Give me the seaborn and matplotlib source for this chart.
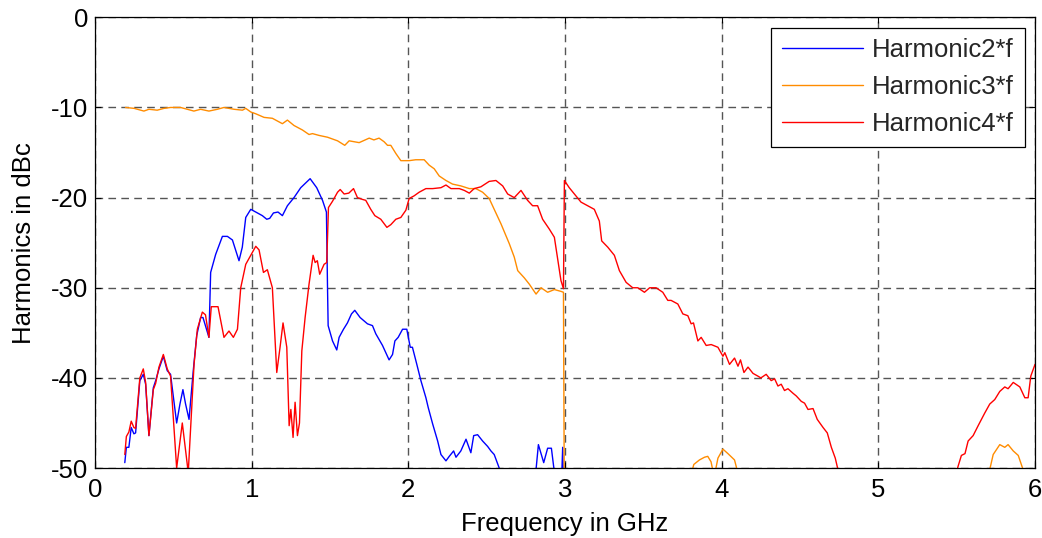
import numpy as np
import pandas as pd
import seaborn as sns
import matplotlib
matplotlib.use("Agg")
import matplotlib.pyplot as plt

# ---- measured harmonic levels (dBc) versus fundamental frequency (GHz) ----
h2_freq = [0.19, 0.20, 0.216, 0.231, 0.248, 0.259, 0.286, 0.308, 0.323, 0.344, 0.372, 0.387,
           0.408, 0.436, 0.461, 0.482, 0.521, 0.542, 0.561, 0.578, 0.600, 0.627, 0.649, 0.674,
           0.689, 0.727, 0.738, 0.770, 0.813, 0.845, 0.877, 0.919, 0.940, 0.962, 0.994, 1.026,
           1.068, 1.096, 1.115, 1.139, 1.168, 1.196, 1.228, 1.270, 1.313, 1.373, 1.415, 1.452,
           1.477, 1.484, 1.488, 1.516, 1.543, 1.558, 1.586, 1.611, 1.637, 1.658, 1.692, 1.739,
           1.771, 1.792, 1.835, 1.877, 1.899, 1.914, 1.935, 1.963, 1.990, 2.012, 2.026, 2.054,
           2.080, 2.112, 2.127, 2.155, 2.187, 2.208, 2.240, 2.261, 2.289, 2.304, 2.335, 2.368,
           2.399, 2.417, 2.442, 2.474, 2.506, 2.527, 2.548, 2.580, 2.590, 2.805, 2.830, 2.864,
           2.889, 2.913, 2.950, 2.975, 2.985, 2.995]
h2_level = [-49.4, -47.7, -47.7, -45.5, -46.2, -46.1, -40.3, -39.6, -40.7, -46.4, -41.1, -40.3,
            -39.0, -37.6, -39.2, -39.6, -45.0, -42.9, -41.3, -42.9, -44.6, -39.2, -35.3, -33.3,
            -33.3, -35.5, -28.3, -26.3, -24.3, -24.3, -24.7, -27.0, -25.5, -22.2, -21.3, -21.6,
            -22.0, -22.4, -22.3, -21.7, -21.6, -22.0, -20.9, -20.0, -18.9, -17.9, -18.9, -20.3,
            -21.6, -30.0, -34.2, -35.9, -36.9, -35.5, -34.6, -33.9, -32.9, -32.5, -33.3, -34.0,
            -34.2, -35.1, -36.4, -38.0, -37.4, -35.9, -35.5, -34.6, -34.6, -36.6, -36.6, -38.5,
            -40.3, -42.2, -43.3, -45.1, -47.0, -48.5, -49.2, -48.7, -48.1, -48.8, -48.1, -46.8,
            -48.3, -46.4, -46.3, -47.0, -47.6, -48.1, -48.5, -50.0, -52.0, -52.0, -47.4, -49.4,
            -47.8, -47.8, -53.0, -53.0, -47.7, -58.0]

h3_freq = [0.195, 0.25, 0.312, 0.344, 0.397, 0.44, 0.482, 0.546, 0.589, 0.631, 0.674, 0.727,
           0.781, 0.823, 0.887, 0.941, 0.962, 0.994, 1.026, 1.079, 1.132, 1.196, 1.228, 1.270,
           1.324, 1.366, 1.388, 1.430, 1.484, 1.548, 1.594, 1.622, 1.686, 1.75, 1.78, 1.813,
           1.845, 1.867, 1.888, 1.92, 1.952, 2.005, 2.047, 2.101, 2.133, 2.165, 2.197, 2.24,
           2.282, 2.335, 2.389, 2.431, 2.474, 2.516, 2.548, 2.591, 2.644, 2.676, 2.698, 2.74,
           2.772, 2.815, 2.847, 2.889, 2.932, 2.974, 2.99, 2.997, 3.79, 3.80, 3.822, 3.858,
           3.89, 3.911, 3.932, 3.952, 3.976, 4.008, 4.04, 4.082, 4.11, 4.12, 5.69, 5.70,
           5.733, 5.775, 5.807, 5.828, 5.861, 5.893, 5.94, 5.95, 6.0]
h3_level = [-10.0, -10.1, -10.4, -10.2, -10.3, -10.1, -10.0, -10.0, -10.2, -10.4, -10.2, -10.4,
            -10.2, -10.0, -10.2, -10.3, -10.1, -10.5, -10.7, -11.1, -11.2, -11.8, -11.4, -12.0,
            -12.5, -13.0, -12.9, -13.1, -13.3, -13.7, -14.2, -13.7, -13.9, -13.4, -13.6, -13.4,
            -13.8, -14.2, -14.2, -15.1, -15.9, -15.9, -15.8, -15.8, -16.4, -16.8, -17.6, -18.1,
            -18.5, -18.7, -19.0, -19.0, -19.4, -20.1, -21.3, -22.9, -25.1, -26.6, -28.1, -28.9,
            -29.6, -30.7, -30.0, -30.5, -30.2, -30.4, -30.5, -60.0, -60.0, -51.0, -49.6, -49.1,
            -48.8, -48.7, -49.3, -51.0, -48.9, -47.9, -48.4, -49.1, -51.0, -60.0, -60.0, -51.0,
            -48.5, -47.4, -47.7, -47.4, -48.1, -48.6, -51.0, -60.0, -60.0]

h4_freq = [0.19, 0.20, 0.216, 0.231, 0.248, 0.259, 0.286, 0.308, 0.323, 0.344, 0.372, 0.387,
           0.408, 0.436, 0.461, 0.482, 0.521, 0.557, 0.595, 0.632, 0.653, 0.685, 0.705, 0.727,
           0.742, 0.785, 0.823, 0.855, 0.883, 0.909, 0.930, 0.962, 0.994, 1.026, 1.047, 1.075,
           1.10, 1.132, 1.16, 1.181, 1.20, 1.224, 1.239, 1.25, 1.264, 1.277, 1.292, 1.305,
           1.32, 1.341, 1.366, 1.392, 1.405, 1.419, 1.434, 1.462, 1.479, 1.49, 1.516, 1.548,
           1.565, 1.59, 1.62, 1.65, 1.675, 1.707, 1.728, 1.76, 1.786, 1.824, 1.863, 1.888,
           1.92, 1.952, 1.984, 2.005, 2.037, 2.069, 2.112, 2.155, 2.208, 2.24, 2.272, 2.325,
           2.357, 2.389, 2.42, 2.463, 2.516, 2.559, 2.602, 2.634, 2.676, 2.719, 2.761, 2.793,
           2.825, 2.857, 2.90, 2.932, 2.974, 2.99, 2.996, 3.027, 3.06, 3.102, 3.145, 3.187,
           3.219, 3.234, 3.273, 3.315, 3.347, 3.39, 3.432, 3.464, 3.507, 3.54, 3.581, 3.624,
           3.656, 3.677, 3.72, 3.752, 3.784, 3.805, 3.82, 3.848, 3.869, 3.901, 3.933, 3.976,
           4.008, 4.02, 4.05, 4.082, 4.104, 4.12, 4.142, 4.168, 4.2, 4.231, 4.25, 4.284,
           4.316, 4.338, 4.359, 4.38, 4.401, 4.423, 4.455, 4.476, 4.508, 4.529, 4.551, 4.583,
           4.61, 4.647, 4.674, 4.70, 4.725, 4.76, 4.77, 5.47, 5.49, 5.509, 5.53, 5.553,
           5.573, 5.605, 5.637, 5.679, 5.711, 5.743, 5.775, 5.807, 5.828, 5.861, 5.903, 5.935,
           5.956, 5.973, 6.0]
h4_level = [-48.5, -46.5, -46.0, -44.8, -45.5, -45.6, -40.0, -39.0, -40.5, -46.4, -41.3, -40.6,
            -38.8, -37.4, -39.0, -39.8, -50.0, -45.0, -50.5, -38.5, -34.6, -32.7, -33.0, -35.5,
            -32.1, -32.1, -35.5, -34.8, -35.5, -34.6, -30.0, -27.4, -26.4, -25.4, -25.8, -28.3,
            -28.0, -30.0, -39.4, -36.6, -33.9, -36.6, -45.3, -43.5, -46.6, -42.7, -46.4, -45.0,
            -37.0, -33.3, -29.6, -26.4, -27.2, -27.0, -28.5, -27.4, -27.2, -21.1, -20.4, -19.4,
            -19.1, -19.6, -19.5, -19.0, -20.0, -20.2, -20.3, -21.3, -22.0, -22.4, -23.3, -23.0,
            -22.4, -22.2, -21.4, -20.1, -19.8, -19.4, -19.0, -19.0, -18.9, -18.6, -19.0, -19.0,
            -19.2, -19.5, -19.0, -18.8, -18.2, -18.1, -18.7, -19.6, -20.0, -19.2, -20.3, -20.9,
            -20.9, -22.4, -23.5, -24.4, -29.2, -30.1, -18.1, -18.9, -19.6, -20.5, -20.9, -21.3,
            -22.6, -24.8, -25.5, -26.4, -28.1, -29.4, -30.0, -30.0, -30.5, -30.0, -30.0, -30.5,
            -31.4, -31.4, -31.8, -32.9, -33.1, -34.0, -33.9, -35.9, -35.5, -36.4, -36.3, -36.6,
            -37.6, -37.2, -38.5, -37.8, -38.7, -38.0, -39.4, -38.8, -39.5, -39.8, -40.0, -39.6,
            -40.3, -40.1, -40.9, -40.7, -41.4, -41.2, -41.7, -42.0, -42.6, -42.8, -43.5, -43.4,
            -44.6, -45.5, -46.1, -47.7, -48.9, -51.5, -60.0, -60.0, -51.0, -49.8, -48.6, -48.4,
            -47.0, -46.4, -45.3, -43.9, -42.9, -42.4, -41.5, -41.0, -41.2, -40.5, -41.0, -42.2,
            -42.2, -39.8, -38.5]

series_names = ["Harmonic2*f", "Harmonic3*f", "Harmonic4*f"]
series_colors = ["#0000ff", "#ff8c00", "#ff0000"]
x_ticks = [0, 1, 2, 3, 4, 5, 6]
y_ticks = [0, -10, -20, -30, -40, -50]

frames = []
for name, fx, fy in zip(series_names, [h2_freq, h3_freq, h4_freq], [h2_level, h3_level, h4_level]):
    frames.append(pd.DataFrame({"freq": fx, "level": fy, "series": name}))
data = pd.concat(frames, ignore_index=True)

sns.set_theme(style="white")
plt.rcParams["font.family"] = ["Liberation Sans", "DejaVu Sans"]
plt.rcParams["axes.unicode_minus"] = False

FS = 18.5

fig = plt.figure(figsize=(10.42, 5.38), dpi=100)
ax = fig.add_axes([0.0912, 0.130, 0.9021, 0.8378])

sns.lineplot(data=data, x="freq", y="level", hue="series", hue_order=series_names,
             palette=series_colors, estimator=None, sort=False, linewidth=1.0, ax=ax)

ax.set_xlim(0, 6)
ax.set_ylim(-50, 0)
ax.set_xticks(x_ticks)
ax.set_yticks(y_ticks)
ax.set_xticklabels([str(v) for v in x_ticks])
ax.set_yticklabels([str(v) for v in y_ticks])

ax.grid(True, color="#555555", linestyle=(0, (5.5, 3.8)), linewidth=1.0)
ax.set_axisbelow(True)
for sp in ax.spines.values():
    sp.set_color("black")
    sp.set_linewidth(0.9)
ax.tick_params(direction="in", length=4, width=0.8, colors="black", labelsize=FS,
               top=True, right=True, bottom=True, left=True)
ax.tick_params(axis="x", pad=7)
ax.tick_params(axis="y", pad=5)

ax.set_xlabel("Frequency in GHz", fontsize=FS, color="black", labelpad=7)
ax.set_ylabel("Harmonics in dBc", fontsize=FS, color="black", labelpad=11)

leg = ax.legend(loc="upper right", fontsize=FS, frameon=True, fancybox=False,
                framealpha=1, edgecolor="black", handlelength=3.15, labelspacing=0.5,
                borderaxespad=0.4, borderpad=0.42, handletextpad=0.35)
leg.get_frame().set_linewidth(0.9)

fig.savefig("out.png", dpi=100, facecolor="white")
